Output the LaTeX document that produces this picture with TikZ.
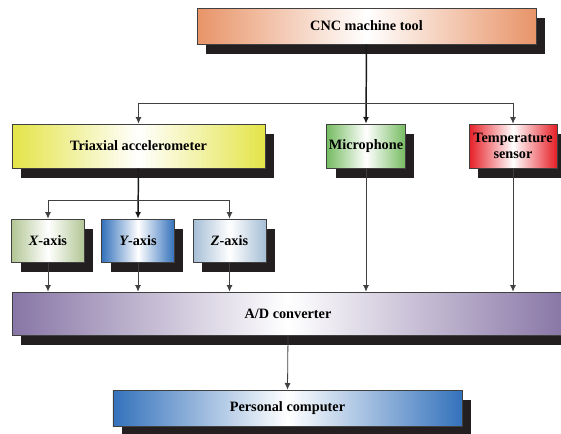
\documentclass[tikz,border=0pt]{standalone}
\usepackage{fontspec}
\setmainfont{Liberation Serif}
\usetikzlibrary{arrows.meta,shadows}

\definecolor{cncorange}{RGB}{232,148,104}
\definecolor{triyellow}{RGB}{228,228,72}
\definecolor{micgreen}{RGB}{118,188,98}
\definecolor{tempred}{RGB}{230,30,38}
\definecolor{xgreen}{RGB}{178,198,148}
\definecolor{yblue}{RGB}{52,114,188}
\definecolor{zblue}{RGB}{165,190,214}
\definecolor{adpurple}{RGB}{136,118,166}
\definecolor{pcblue}{RGB}{52,114,188}
\definecolor{shadowblk}{RGB}{35,31,32}

\tikzset{
  block/.style={draw=black!75,line width=0.5pt,align=center,inner sep=1pt,
    font=\fontsize{10.7}{12.5}\selectfont\bfseries,
    drop shadow={shadow xshift=6.75pt,shadow yshift=-7.5pt,fill=shadowblk,opacity=1}},
  shadeof/.style={left color=#1,right color=#1,middle color=white},
  link/.style={draw=black!75,line width=0.6pt,-{Latex[length=5pt,width=4.5pt]}},
  trunk/.style={line width=1.1pt,draw=black!90}
}

\begin{document}
\begin{tikzpicture}[x=0.75pt,y=-0.75pt]
  \useasboundingbox (0,0) rectangle (561,433);

  \node[block,shadeof=cncorange,minimum width=254pt,minimum height=27pt] (cnc) at (366.5,26) {CNC machine tool};

  \node[block,shadeof=triyellow,minimum width=190pt,minimum height=33pt] (tri) at (138.5,146) {Triaxial accelerometer};
  \node[block,shadeof=micgreen,minimum width=59pt,minimum height=33pt] (mic) at (366,146) {Microphone};
  \node[block,shadeof=tempred,minimum width=66pt,minimum height=33pt] (temp) at (513,146) {Temperature\\sensor};

  \node[block,shadeof=xgreen,minimum width=54.5pt,minimum height=32.25pt] (xax) at (48,240.5) {{\itshape X}-axis};
  \node[block,shadeof=yblue,minimum width=54.5pt,minimum height=32.25pt] (yax) at (138,240.5) {{\itshape Y}-axis};
  \node[block,shadeof=zblue,minimum width=54.5pt,minimum height=32.25pt] (zax) at (229.5,240.5) {{\itshape Z}-axis};

  \node[block,shadeof=adpurple,minimum width=414pt,minimum height=32.25pt] (ad) at (288,313.5) {A/D converter};

  \node[block,shadeof=pcblue,minimum width=262pt,minimum height=27pt] (pc) at (287.5,408) {Personal computer};

  \coordinate (split1) at (cnc.south |- 0,103);
  \coordinate (split2) at (tri.south |- 0,200);

  \draw[link,trunk] (cnc.south) -- (mic.north);
  \draw[link] (split1) -| (tri.north);
  \draw[link] (split1) -| (temp.north);

  \draw[link,trunk] (tri.south) -- (yax.north);
  \draw[link] (split2) -| (xax.north);
  \draw[link] (split2) -| (zax.north);

  \draw[link] (xax.south) -- (xax.south |- ad.north);
  \draw[link] (yax.south) -- (yax.south |- ad.north);
  \draw[link] (zax.south) -- (zax.south |- ad.north);
  \draw[link] (mic.south) -- (mic.south |- ad.north);
  \draw[link] (temp.south) -- (temp.south |- ad.north);

  \draw[link] (ad.south) -- (pc.north);
\end{tikzpicture}
\end{document}
